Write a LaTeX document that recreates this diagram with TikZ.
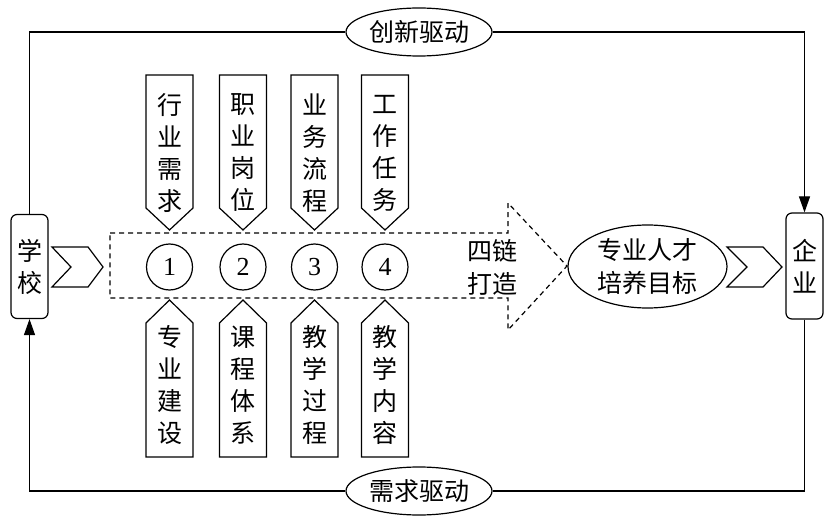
\documentclass[tikz,border=0pt]{standalone}
\usepackage{fontspec}
\setmainfont{Noto Sans CJK SC}
\newfontfamily\digitfont{Liberation Serif}
\usetikzlibrary{shapes.geometric,arrows.meta}
\begin{document}
\begin{tikzpicture}[x=1pt,y=-1pt,line width=1.2pt,
  lbl/.style={font=\fontsize{25}{32}\selectfont,align=center,inner sep=0pt},
  endbox/.style={draw,rounded corners=6pt,minimum width=37pt,minimum height=104pt,inner sep=0pt,align=center,font=\fontsize{25}{32}\selectfont},
  drive/.style={draw,ellipse,minimum width=146pt,minimum height=48pt,inner sep=0pt,fill=white,font=\fontsize{25}{28}\selectfont},
  goal/.style={draw,ellipse,minimum width=159pt,minimum height=83pt,inner sep=0pt,fill=white,align=center,font=\fontsize{25}{33}\selectfont},
  num/.style={draw,circle,minimum size=46pt,inner sep=0pt,font=\digitfont\fontsize{26}{26}\selectfont},
  chainline/.style={dash pattern=on 5pt off 4pt,line width=1.2pt},
  flowarrow/.style={-{Triangle[length=16pt,width=11pt]}}]
\useasboundingbox (0,0) rectangle (828,516);

% end boxes
\node[endbox] (school) at (29.5,266.5) {学\\校};
\node[endbox,minimum height=106pt] (firm) at (804.5,266) {企\\业};

% drive ellipses
\node[drive] (innov) at (419,32) {创新驱动};
\node[drive] (demand) at (419,491) {需求驱动};

% loop connectors
\draw (school.north) |- (innov.west);
\draw[flowarrow] (innov.east) -| (firm.north);
\draw (firm.south) |- (demand.east);
\draw[flowarrow] (demand.west) -| (school.south);

% dashed big arrow
\draw[chainline] (110,233) -- (508,233) -- (508,203) -- (567,266) -- (508,330) -- (508,298) -- (110,298) -- cycle;

% chevrons
\draw (52,247) -- (88,247) -- (103,267) -- (88,287) -- (52,287) -- (71,267) -- cycle;
\draw (727,247) -- (763,247) -- (782,267) -- (763,287) -- (727,287) -- (747,267) -- cycle;

% goal ellipse
\node[goal] (goal) at (647.5,266.5) {专业人才\\培养目标};

% four chains label
\node[lbl,font=\fontsize{25}{33}\selectfont] (chain) at (492,267) {四链\\打造};

% columns
\foreach \x/\t/\b [count=\i] in {169.5/{行\\业\\需\\求}/{专\\业\\建\\设},
                                 243/{职\\业\\岗\\位}/{课\\程\\体\\系},
                                 314.5/{业\\务\\流\\程}/{教\\学\\过\\程},
                                 385/{工\\作\\任\\务}/{教\\学\\内\\容}}{
  \draw (\x-23.5,75) -- (\x+23.5,75) -- (\x+23.5,208) -- (\x,230) -- (\x-23.5,208) -- cycle;
  \node[lbl] (top\i) at (\x,153) {\t};
  \node[num] (c\i) at (\x,267) {\i};
  \draw (\x-23.5,457) -- (\x-23.5,323) -- (\x,300) -- (\x+23.5,323) -- (\x+23.5,457) -- cycle;
  \node[lbl] (bot\i) at (\x,385) {\b};
}
\end{tikzpicture}
\end{document}
